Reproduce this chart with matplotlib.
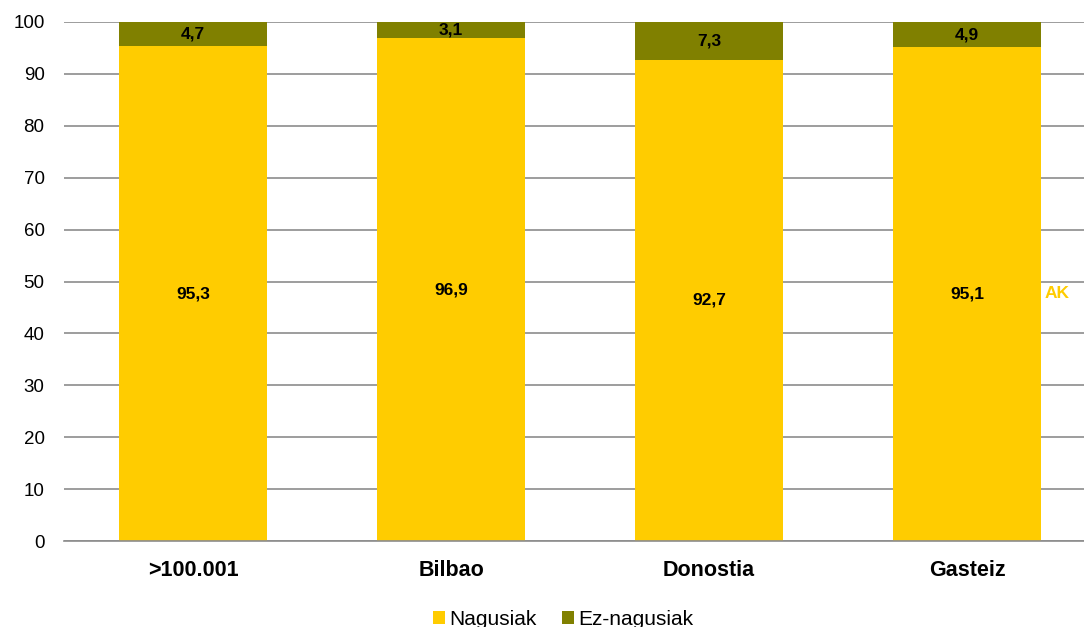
import matplotlib.pyplot as plt
import numpy as np

plt.rcParams['font.family'] = ['Liberation Sans', 'DejaVu Sans']

categories = ['>100.001', 'Bilbao', 'Donostia', 'Gasteiz']
nagusiak = [95.3, 96.9, 92.7, 95.1]
ez_nagusiak = [4.7, 3.1, 7.3, 4.9]

yellow = '#FFCC00'
olive = '#808000'

fig = plt.figure(figsize=(10.84, 6.27), dpi=100)
ax = fig.add_axes([64 / 1084, 1 - 541 / 627, 1032 / 1084, 519 / 627])

x = np.arange(len(categories))
w = 0.575
b1 = ax.bar(x, nagusiak, w, color=yellow, label='Nagusiak', zorder=2)
b2 = ax.bar(x, ez_nagusiak, w, bottom=nagusiak, color=olive,
            label='Ez-nagusiak', zorder=2)

for i in range(len(categories)):
    ax.text(x[i], nagusiak[i] / 2, f'{nagusiak[i]:.1f}'.replace('.', ','),
            ha='center', va='center', fontsize=12.5, fontweight='bold', zorder=3)
    ax.text(x[i], nagusiak[i] + ez_nagusiak[i] / 2,
            f'{ez_nagusiak[i]:.1f}'.replace('.', ','),
            ha='center', va='center', fontsize=12.5, fontweight='bold', zorder=3)

# leftover of a title text that sits behind the last bar
ax.text(3.3, 47.7, 'AK', ha='left', va='center', color=yellow,
        fontsize=12.5, fontweight='bold', zorder=1)

ax.set_xlim(-0.5, 3.5)
ax.set_ylim(0, 100)
ax.set_yticks(range(0, 101, 10))
ax.set_xticks(x)
ax.set_xticklabels(categories, fontsize=15.5, fontweight='bold')
ax.tick_params(axis='y', labelsize=13.5, length=0, pad=14)
ax.tick_params(axis='x', length=0, pad=14)
ax.yaxis.grid(True, color='#8c8c8c', linewidth=1.2, zorder=0)
ax.set_axisbelow(True)
for s in ['top', 'right', 'left']:
    ax.spines[s].set_visible(False)
ax.spines['bottom'].set_color('#8c8c8c')
ax.spines['bottom'].set_linewidth(1.2)

fig.legend(handles=[b1, b2], loc='lower center', bbox_to_anchor=(563 / 1084, -0.033),
           ncol=2, frameon=False, fontsize=15, handlelength=0.6, handleheight=0.6,
           handletextpad=0.2, columnspacing=1.2)

fig.savefig('out.png', dpi=100)
